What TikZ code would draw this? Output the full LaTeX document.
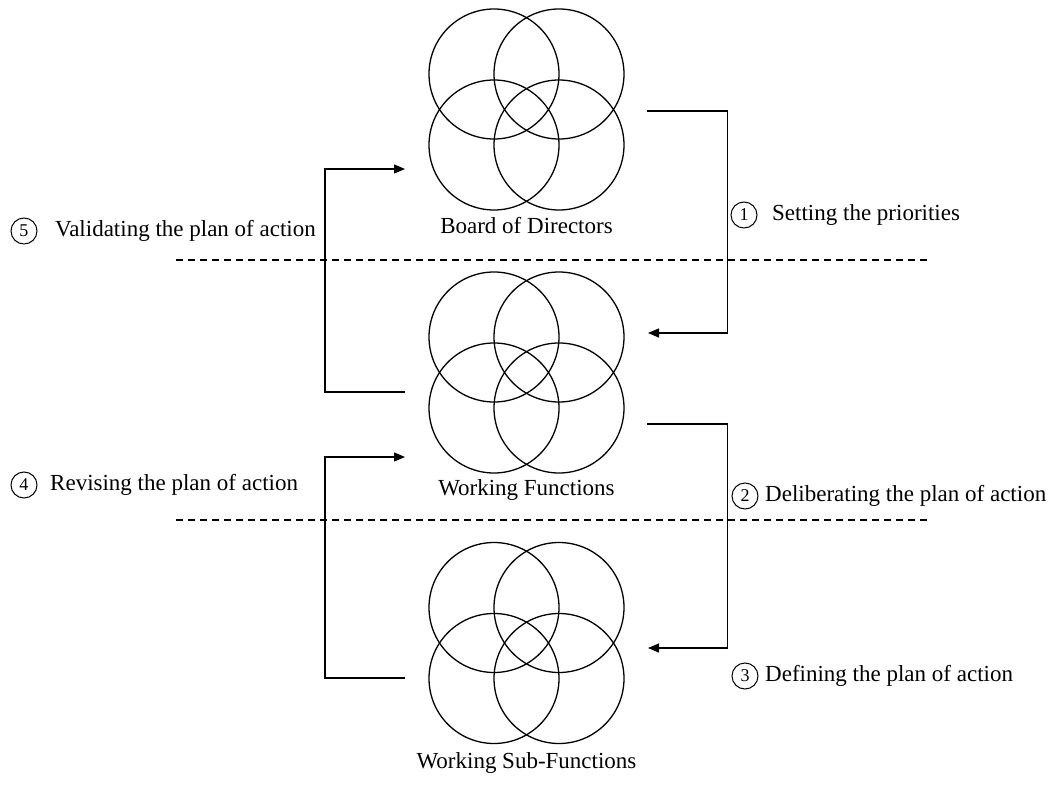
\documentclass[tikz,border=0pt]{standalone}
\usepackage{fontspec}
\setmainfont{Liberation Serif}
\usetikzlibrary{arrows.meta}
\begin{document}
\begin{tikzpicture}[x=1pt,y=-1pt,
  ring/.style={draw, line width=1.3pt, circle, minimum size=130pt, inner sep=0pt},
  grouplbl/.style={font=\fontsize{23}{27}\selectfont, text height=16pt, text depth=5pt, inner sep=0pt},
  steplbl/.style={font=\fontsize{23}{27}\selectfont, text height=16pt, text depth=5pt, inner sep=0pt, anchor=west},
  numlbl/.style={draw, line width=1pt, circle, minimum size=26pt, inner sep=0pt, font=\fontsize{18}{20}\selectfont},
  sep/.style={line width=1.2pt, dash pattern=on 7pt off 5pt},
  flow/.style={line width=1.3pt, -{Triangle[length=11pt,width=9pt]}}
]
\useasboundingbox (0,0) rectangle (1061,789);

% clusters
\foreach \n/\y in {t/74, m/337, b/607.5}{
  \node[ring] (\n1) at (494,\y) {};
  \node[ring] (\n2) at (559,\y) {};
  \node[ring] (\n3) at (494,\y+71) {};
  \node[ring] (\n4) at (559,\y+71) {};
}
\node[grouplbl] (tl) at (526.5,228) {Board of Directors};
\node[grouplbl] (ml) at (526.5,490) {Working Functions};
\node[grouplbl] (bl) at (526.5,763) {Working Sub-Functions};

% separators
\coordinate (d1a) at (176,260); \coordinate (d1b) at (928,260);
\coordinate (d2a) at (176,520); \coordinate (d2b) at (928,520);
\draw[sep] (d1a) -- (d1b);
\draw[sep] (d2a) -- (d2b);

% right arrows
\coordinate (r1s) at (647,111); \coordinate (r1e) at (648,333);
\coordinate (r2s) at (647,424); \coordinate (r2e) at (648,648);
\draw[flow] (r1s) -- (727.7,111) -- (727.7,333) -- (r1e);
\draw[flow] (r2s) -- (727.7,424) -- (727.7,648) -- (r2e);

% left arrows
\coordinate (l1s) at (405,392); \coordinate (l1e) at (405,169);
\coordinate (l2s) at (405,678); \coordinate (l2e) at (405,457);
\draw[flow] (l1s) -- (325,392) -- (325,169) -- (l1e);
\draw[flow] (l2s) -- (325,678) -- (325,457) -- (l2e);

% step labels
\node[numlbl] (n1) at (744,215) {1};
\node[steplbl] (s1) at (772,215) {Setting the priorities};
\node[numlbl] (n2) at (745,496) {2};
\node[steplbl] (s2) at (765,496) {Deliberating the plan of action};
\node[numlbl] (n3) at (745,676) {3};
\node[steplbl] (s3) at (765,676) {Defining the plan of action};
\node[numlbl] (n4) at (24,485) {4};
\node[steplbl] (s4) at (50,485) {Revising the plan of action};
\node[numlbl] (n5) at (24,231) {5};
\node[steplbl] (s5) at (55,231) {Validating the plan of action};
\end{tikzpicture}
\end{document}
